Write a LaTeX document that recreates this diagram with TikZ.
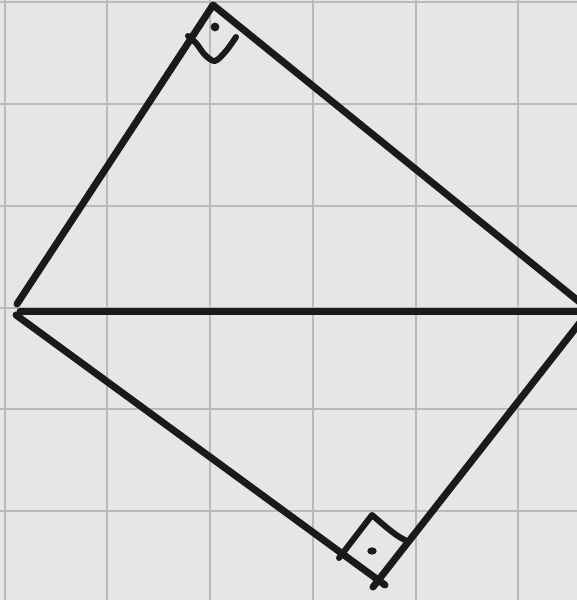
\documentclass[tikz,border=0pt]{standalone}
\definecolor{bgcol}{HTML}{E6E6E6}
\definecolor{gridcol}{HTML}{BABABA}
\definecolor{ink}{HTML}{1A1A1A}
\begin{document}
\begin{tikzpicture}[x=1pt,y=-1pt,
  edge/.style={draw=ink, line width=7pt, line cap=round, line join=round},
  marker/.style={draw=ink, line width=6pt, line cap=round, line join=round},
  gridline/.style={draw=gridcol, line width=2.5pt}]
\useasboundingbox (0,0) rectangle (577,600);
\fill[bgcol] (0,0) rectangle (577,600);
\begin{scope}
\clip (0,0) rectangle (577,600);
\foreach \x in {5,107,210,313,416,518} \draw[gridline] (\x,0) -- (\x,600);
\foreach \y in {2,104,206,308,409,511} \draw[gridline] (0,\y) -- (577,\y);
% vertices
\coordinate (A) at (213,5);
\coordinate (Ltop) at (17,304);
\coordinate (Lbot) at (16,315);
\coordinate (Lmid) at (20,311);
\coordinate (Rmid) at (582,311);
\coordinate (Rtop) at (582,304);
\coordinate (Rbot) at (582,320);
\coordinate (Bl) at (385,585);
\coordinate (Br) at (373,587);
% sides
\draw[edge] (Ltop) -- (A) -- (Rtop);
\draw[edge] (Lmid) -- (Rmid);
\draw[edge] (Lbot) -- (Bl);
\draw[edge] (Br) -- (Rbot);
% right-angle marker at top
\draw[marker] plot[smooth] coordinates {(188,36) (196,43) (205,55) (215,61) (226,51) (236,37)};
\fill[ink] (215,27) circle (4.4);
% right-angle marker at bottom
\draw[marker] (339,558) -- (372,515) .. controls (386,527) and (396,536) .. (405,540);
\fill[ink] (372,551) ellipse (4.7 and 3.7);
\end{scope}
\end{tikzpicture}
\end{document}
